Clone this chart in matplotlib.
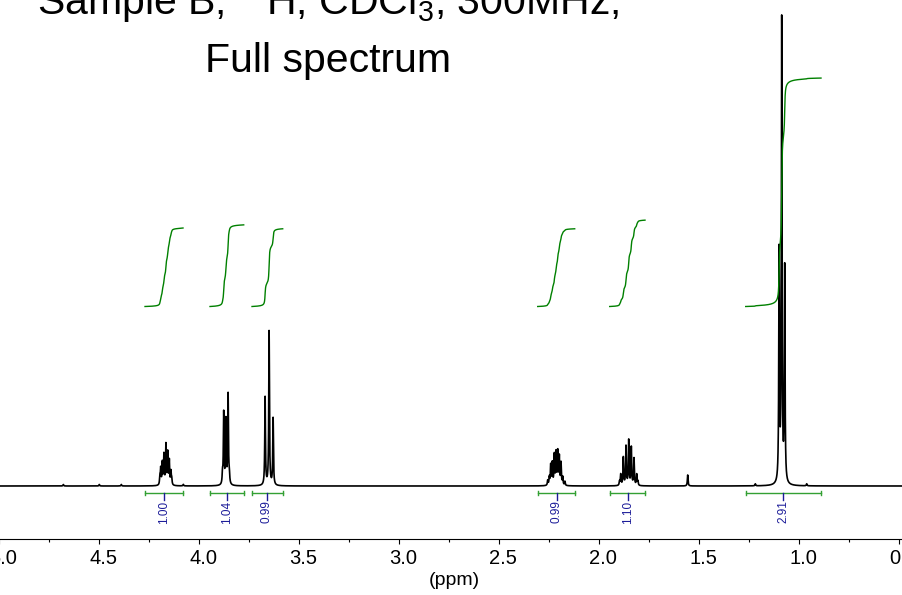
import numpy as np
import matplotlib
matplotlib.use('Agg')
import matplotlib.pyplot as plt
import matplotlib.transforms as mtransforms
from matplotlib.ticker import MultipleLocator, FormatStrFormatter

plt.rcParams['font.family'] = ['Liberation Sans', 'DejaVu Sans']
plt.rcParams['mathtext.fontset'] = 'custom'
plt.rcParams['mathtext.rm'] = 'Liberation Sans'
plt.rcParams['mathtext.it'] = 'Liberation Sans:italic'

# peak lists (ppm, height in plot units above baseline)
m1_ppm = [4.197, 4.193, 4.185, 4.177, 4.167, 4.158, 4.150, 4.142, 4.138]
m1_h = [8, 16, 22, 30, 40, 32, 24, 13, 6]
m2_ppm = [3.884, 3.878, 3.867, 3.856, 3.850]
m2_h = [10, 72, 64, 90, 10]
m3_ppm = [3.671, 3.651, 3.631]
m3_h = [88, 154, 67]
m4_ppm = [2.258, 2.250, 2.243, 2.235, 2.225, 2.2165, 2.208, 2.200, 2.1915, 2.183, 2.172]
m4_h = [5, 8, 20, 22, 30, 32, 33, 28, 22, 8, 4]
m5_ppm = [1.899, 1.893, 1.880, 1.8665, 1.853, 1.840, 1.8265, 1.813, 1.807]
m5_h = [4, 11, 28, 39, 45, 38, 27, 11, 4]
water_ppm = [1.558]
water_h = [11]
m6_ppm = [1.101, 1.088, 1.073]
m6_h = [230, 462, 214]
small_ppm = [4.68, 4.50, 4.39, 4.08, 1.22, 0.963]
small_h = [1.5, 1.5, 1.5, 1.5, 2, 2]

# integrals
int_start = [4.2715, 3.9465, 3.7365, 2.308, 1.948, 1.268]
int_end = [4.0815, 3.778, 3.583, 2.123, 1.7715, 0.8915]
int_center = [4.175, 3.8615, 3.6615, 2.213, 1.858, 1.08]
int_values = [1.00, 1.04, 0.99, 0.99, 1.10, 2.91]

ticks_major = 0.5
ticks_minor = 0.25

peaks_ppm = m1_ppm + m2_ppm + m3_ppm + m4_ppm + m5_ppm + water_ppm + m6_ppm + small_ppm
peaks_h = m1_h + m2_h + m3_h + m4_h + m5_h + water_h + m6_h + small_h

gamma = 0.002
x = np.arange(5.0, 0.44, -0.0001)
y = np.zeros_like(x)
for p, h in zip(peaks_ppm, peaks_h):
    y += h * gamma**2 / ((x - p)**2 + gamma**2)

fig = plt.figure(figsize=(9.03, 5.95), dpi=100)
ax = fig.add_axes([-0.7/903, 56/595, 910/903, 539/595])

ax.plot(x, y, color='black', lw=1.2)

unit = 78.5
int_base = 179.5
bar_y = -7
for s, e, c, v in zip(int_start, int_end, int_center, int_values):
    sel = (x <= s) & (x >= e)
    xs = x[sel]
    cs = np.cumsum(y[sel])
    cs = cs / cs[-1] * v * unit + int_base
    ax.plot(xs, cs, color='#008000', lw=1.0)
    ax.plot([s, e], [bar_y, bar_y], color='#33a033', lw=1.0)
    ax.plot([s, s], [bar_y - 2, bar_y + 2], color='#33a033', lw=1.0)
    ax.plot([e, e], [bar_y - 2, bar_y + 2], color='#33a033', lw=1.0)
    ax.plot([c, c], [bar_y, bar_y - 7], color='#1c1c99', lw=1.0)
    ax.text(c, bar_y - 7.5, '%.2f' % v, rotation=90, ha='center', va='top',
            color='#1c1c99', fontsize=8.5)

ax.set_xlim(5.0, 0.45)
ax.set_ylim(-53, 486)

for side in ['left', 'top', 'right']:
    ax.spines[side].set_visible(False)
ax.spines['bottom'].set_linewidth(0.8)
ax.set_yticks([])
ax.xaxis.set_major_locator(MultipleLocator(ticks_major))
ax.xaxis.set_minor_locator(MultipleLocator(ticks_minor))
ax.xaxis.set_major_formatter(FormatStrFormatter('%.1f'))
ax.tick_params(axis='x', which='major', direction='out', length=3.8, width=0.8,
               labelsize=14.5, pad=3.5)
ax.tick_params(axis='x', which='minor', direction='out', length=2.4, width=0.8)
ax.set_xlabel('(ppm)', fontsize=14, labelpad=3)

# tick labels sit a few pixels right of their ticks in the original
shift = mtransforms.ScaledTranslation(4/100, 0, fig.dpi_scale_trans)
for lab in ax.get_xticklabels():
    lab.set_transform(lab.get_transform() + shift)

fig.text(328/903, 1 - 15/595, r'Sample B,  $\mathregular{^1}$H, CDCl$\mathregular{_3}$, 300MHz,',
         ha='center', va='baseline', fontsize=29.5)
fig.text(328/903, 1 - 72/595, 'Full spectrum', ha='center', va='baseline', fontsize=29.5)

fig.savefig('out.png', dpi=100)
